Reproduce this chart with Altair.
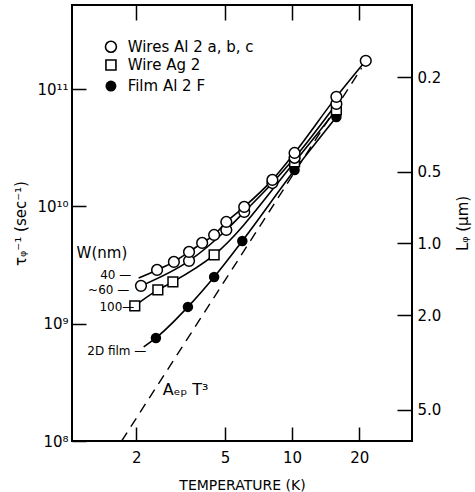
import altair as alt
import pandas as pd

FONT = "DejaVu Sans"

# ---------------- data ----------------
# Wires Al 2 (W = 40 nm), open circles
w40_T = [2.48, 2.95, 3.45, 3.95, 4.47, 5.07, 6.1, 8.16, 10.26, 15.8, 21.4]
w40_rate = [2.87e9, 3.36e9, 4.09e9, 4.88e9, 5.70e9, 7.36e9, 9.89e9, 1.68e10, 2.85e10, 8.57e10, 1.74e11]
w40_start_T = [2.05]
w40_start_rate = [2.45e9]

# Wires Al 2 (W ~ 60 nm), open circles
w60_T = [2.10, 3.45, 5.07, 6.1, 8.16, 10.26, 15.8]
w60_rate = [2.10e9, 3.43e9, 6.29e9, 8.96e9, 1.58e10, 2.59e10, 7.46e10]

# Wire Ag 2 (W = 100 nm), open squares
ag_T = [1.97, 2.50, 2.92, 4.47, 10.26, 15.8]
ag_rate = [1.42e9, 1.94e9, 2.27e9, 3.85e9, 2.39e10, 6.64e10]

# Film Al 2 F (2D film), filled circles
film_T = [2.45, 3.41, 4.47, 5.98, 10.26, 15.8]
film_rate = [7.55e8, 1.39e9, 2.50e9, 5.07e9, 2.04e10, 5.78e10]
film_start_T = [2.16]
film_start_rate = [6.33e8]

# A_ep T^3 dashed line (end points)
aep_T = [1.72, 20.5]
aep_rate = [1.0e8, 1.51e11]

# axes
x_ticks = [2, 5, 10, 20]
y_ticks = [1e8, 1e9, 1e10, 1e11]
L_ticks = [0.2, 0.5, 1.0, 2.0, 5.0]

# legend
legend_labels = ["Wires Al 2 a, b, c", "Wire Ag 2", "Film Al 2 F"]
legend_rate = [2.29e11, 1.60e11, 1.06e11]
legend_sym_T = 1.54
legend_txt_T = 1.83

# width labels
wlab_text = ["40 —", "~60 —", "100—"]
wlab_T = [1.90, 1.86, 1.96]
wlab_rate = [2.60e9, 1.94e9, 1.39e9]
film_lab_text = ["2D film —"]
film_lab_T = [2.22]
film_lab_rate = [5.85e8]
whead_text = ["W(nm)"]
whead_T = [1.08]
whead_rate = [4.0e9]
aep_lab_text = ["Aₑₚ T³"]
aep_lab_T = [2.63]
aep_lab_rate = [2.72e8]

# ---------------- tables ----------------
def df(T, rate, **extra):
    d = pd.DataFrame({"T": T, "rate": rate})
    for k, v in extra.items():
        d[k] = v
    return d

w40_line = df(w40_start_T + w40_T, w40_start_rate + w40_rate)
w40_pts = df(w40_T, w40_rate)
w60_df = df(w60_T, w60_rate)
ag_df = df(ag_T, ag_rate)
film_line = df(film_start_T + film_T, film_start_rate + film_rate)
film_pts = df(film_T, film_rate)
aep_df = df(aep_T, aep_rate)
leg_sym = df([legend_sym_T] * 3, legend_rate, kind=["open", "square", "filled"])
leg_txt = df([legend_txt_T] * 3, legend_rate, label=legend_labels)
wlab_df = df(wlab_T, wlab_rate, label=wlab_text)
film_lab_df = df(film_lab_T, film_lab_rate, label=film_lab_text)
whead_df = df(whead_T, whead_rate, label=whead_text)
aep_lab_df = df(aep_lab_T, aep_lab_rate, label=aep_lab_text)

# ---------------- scales / axes ----------------
x_scale = alt.Scale(type="log", domain=[1.03, 34.5], nice=False)
y_scale = alt.Scale(type="log", domain=[1e8, 5.2e11], nice=False)

x_axis = alt.Axis(
    orient="bottom", values=x_ticks, format="d", offset=-14, tickSize=14,
    tickWidth=1.5, tickColor="black", domain=False, grid=False,
    labelFont=FONT, labelFontSize=15, labelColor="black", labelPadding=9,
    title="TEMPERATURE (K)", titleFont=FONT, titleFontSize=14,
    titleFontWeight="normal", titleColor="black", titlePadding=13,
)
y_axis = alt.Axis(
    orient="left", values=y_ticks,
    labelExpr="datum.value >= 5e10 ? '10¹¹' : datum.value >= 5e9 ? '10¹⁰' : datum.value >= 5e8 ? '10⁹' : '10⁸'",
    offset=-14, tickSize=14, tickWidth=1.5, tickColor="black", domain=False,
    grid=False, labelFont=FONT, labelFontSize=15, labelColor="black",
    labelPadding=4, title="τᵩ⁻¹ (sec⁻¹)", titleFont=FONT, titleFontSize=15,
    titleFontWeight="normal", titleColor="black", titlePadding=8,
)

X = alt.X("T:Q", scale=x_scale, axis=x_axis)
Y = alt.Y("rate:Q", scale=y_scale, axis=y_axis)

line_kw = dict(color="black", strokeWidth=1.6, interpolate="monotone", clip=True)

layers = [
    alt.Chart(aep_df).mark_line(color="black", strokeWidth=1.4, strokeDash=[10, 7], clip=True).encode(x=X, y=Y),
    alt.Chart(film_line).mark_line(**line_kw).encode(x=X, y=Y),
    alt.Chart(ag_df).mark_line(**line_kw).encode(x=X, y=Y),
    alt.Chart(w60_df).mark_line(**line_kw).encode(x=X, y=Y),
    alt.Chart(w40_line).mark_line(**line_kw).encode(x=X, y=Y),
    alt.Chart(film_pts).mark_point(shape="circle", filled=True, color="black", size=110, opacity=1).encode(x=X, y=Y),
    alt.Chart(ag_df).mark_point(shape="square", filled=True, fill="white", stroke="black", strokeWidth=1.5, size=95, opacity=1).encode(x=X, y=Y),
    alt.Chart(w60_df).mark_point(shape="circle", filled=True, fill="white", stroke="black", strokeWidth=1.5, size=115, opacity=1).encode(x=X, y=Y),
    alt.Chart(w40_pts).mark_point(shape="circle", filled=True, fill="white", stroke="black", strokeWidth=1.5, size=115, opacity=1).encode(x=X, y=Y),
    # legend symbols
    alt.Chart(leg_sym[leg_sym.kind == "open"]).mark_point(shape="circle", filled=True, fill="white", stroke="black", strokeWidth=1.6, size=120, opacity=1).encode(x=X, y=Y),
    alt.Chart(leg_sym[leg_sym.kind == "square"]).mark_point(shape="square", filled=True, fill="white", stroke="black", strokeWidth=1.6, size=100, opacity=1).encode(x=X, y=Y),
    alt.Chart(leg_sym[leg_sym.kind == "filled"]).mark_point(shape="circle", filled=True, color="black", size=120, opacity=1).encode(x=X, y=Y),
    alt.Chart(leg_txt).mark_text(align="left", baseline="middle", font=FONT, fontSize=15, color="black").encode(x=X, y=Y, text="label:N"),
    alt.Chart(wlab_df).mark_text(align="right", baseline="middle", font=FONT, fontSize=12, color="black").encode(x=X, y=Y, text="label:N"),
    alt.Chart(film_lab_df).mark_text(align="right", baseline="middle", font=FONT, fontSize=12, color="black").encode(x=X, y=Y, text="label:N"),
    alt.Chart(whead_df).mark_text(align="left", baseline="middle", font=FONT, fontSize=15, color="black").encode(x=X, y=Y, text="label:N"),
    alt.Chart(aep_lab_df).mark_text(align="left", baseline="middle", font=FONT, fontSize=16, color="black").encode(x=X, y=Y, text="label:N"),
]
main = alt.layer(*layers)

# top axis (ticks only)
top_df = pd.DataFrame({"T": x_ticks})
top = alt.Chart(top_df).mark_point(opacity=0).encode(
    x=alt.X("T:Q", scale=x_scale, axis=alt.Axis(
        orient="top", values=x_ticks, labels=False, title="", offset=-15,
        tickSize=15, tickWidth=1.5, tickColor="black", domain=False, grid=False))
)

# right axis: L_phi (um)
right_df = pd.DataFrame({"L": L_ticks})
right = alt.Chart(right_df).mark_point(opacity=0).encode(
    y=alt.Y("L:Q", scale=alt.Scale(type="log", domain=[0.0995, 6.76], reverse=True, nice=False),
            axis=alt.Axis(orient="right", values=L_ticks, format=".1f", offset=-15,
                          tickSize=15, tickWidth=1.5, tickColor="black", domain=False,
                          grid=False, labelFont=FONT, labelFontSize=15, labelColor="black",
                          labelPadding=5, title="Lᵩ (μm)", titleFont=FONT, titleFontSize=15,
                          titleFontWeight="normal", titleColor="black", titleAngle=270,
                          titlePadding=30))
)

chart = alt.layer(main, top, right).resolve_scale(x="independent", y="independent").properties(
    width=340, height=436, autosize="none",
    padding={"left": 72, "top": 5, "right": 63, "bottom": 51},
    background="white",
).configure_view(stroke="black", strokeWidth=2)

chart.save("out.html", embed_options={"renderer": "svg", "actions": False})
